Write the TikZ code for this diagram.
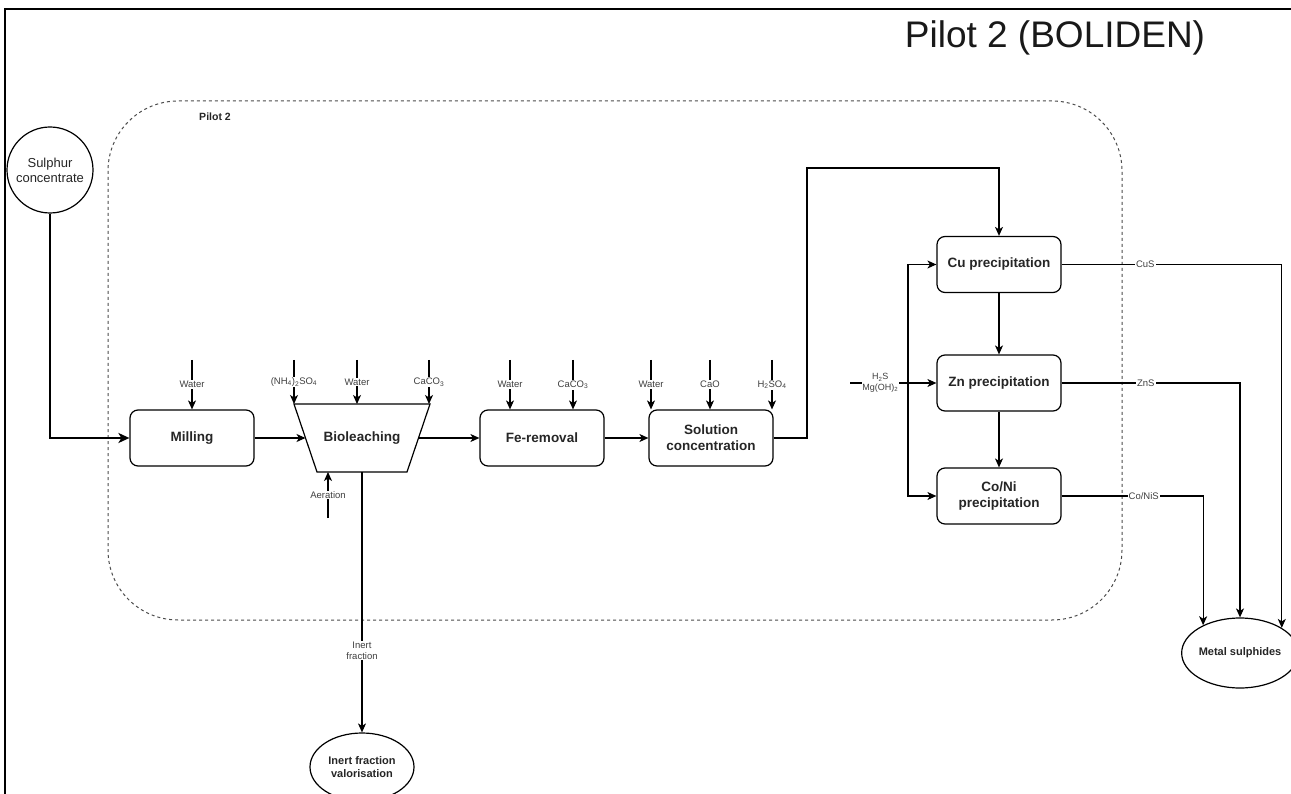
\documentclass[tikz,border=0pt]{standalone}
\usepackage{fontspec}
\setmainfont{Liberation Sans}
\usetikzlibrary{arrows.meta,calc,shapes.geometric}
\begin{document}
\begin{tikzpicture}[x=1pt,y=-1pt,
  line width=1.2pt,
  arr/.style={-{Stealth[length=9pt,width=8pt,inset=2.5pt]}},
  thickarr/.style={line width=2pt,-{Stealth[length=11pt,width=10pt,inset=3pt]}},
  box/.style={draw, rounded corners=8pt, minimum width=124pt, minimum height=56pt, align=center, font=\fontsize{13.5}{16}\selectfont\bfseries, text=black!85},
  lbl/.style={fill=white, font=\fontsize{9.5}{11}\selectfont, text=black!75, inner sep=1pt, align=center},
  ell/.style={draw, ellipse, align=center, font=\fontsize{11}{13}\selectfont\bfseries, text=black!85, inner sep=0pt}
]
\useasboundingbox (0,0) rectangle (1291,794);
\clip (0,0) rectangle (1291,794);
\fill[white] (0,0) rectangle (1291,794);

% frame
\draw[line width=2pt] (5,800) -- (5,9) -- (1300,9);
\node[font=\fontsize{37}{41}\selectfont, text=black!90] (title) at (1055,38) {Pilot 2 (BOLIDEN)};

% container
\draw[dashed, dash pattern=on 3pt off 3pt, black!70, line width=1pt, rounded corners=70pt] (108,101) rectangle (1122,620);
\node[font=\fontsize{10.5}{12}\selectfont\bfseries, text=black!85] (plabel) at (215,117) {Pilot 2};

% nodes
\node[draw, circle, minimum size=86pt, inner sep=0pt, align=center, font=\fontsize{13}{15}\selectfont, text=black!85] (sc) at (50,170) {Sulphur\\concentrate};
\node[box] (mill) at (192,438) {Milling};
% bioleaching trapezoid
\draw (294,404) -- (430,404) -- (407,472) -- (317,472) -- cycle;
\node[font=\fontsize{13.5}{16}\selectfont\bfseries, text=black!85] (bio) at (362,438) {Bioleaching};
\coordinate (bioW) at (305.5,438);
\coordinate (bioE) at (418.5,438);
\coordinate (bioN) at (362,404);
\coordinate (bioS) at (362,472);
\node[box] (fe) at (542,438) {Fe-removal};
\node[box] (sol) at (711,438) {Solution\\concentration};
\node[box] (cu) at (999,264.5) {Cu precipitation};
\node[box] (zn) at (999,383) {Zn precipitation};
\node[box] (coni) at (999,496) {Co/Ni\\precipitation};
\node[ell, minimum width=101pt, minimum height=70pt] (ms) at (1240,653) {Metal sulphides};
\node[ell, minimum width=104pt, minimum height=68pt] (ifv) at (362,767) {Inert fraction\\valorisation};

% main flow
\draw[thickarr] (sc.south) |- (mill.west);
\draw[arr] (mill.east) -- (bioW);
\draw[arr] (bioE) -- (fe.west);
\draw[arr] (fe.east) -- (sol.west);
\coordinate (up) at (807,168);
\draw[arr] (sol.east) -| (up) -| (cu.north);
\draw[arr] (cu.south) -- (zn.north);
\draw[arr] (zn.south) -- (coni.north);

% inputs
\coordinate (i1) at (192,360);
\coordinate (i2) at (294,360);
\coordinate (i3) at (357,360);
\coordinate (i4) at (429,360);
\coordinate (i5) at (510,360);
\coordinate (i6) at (573,360);
\coordinate (i7) at (651,360);
\coordinate (i8) at (710,360);
\coordinate (i9) at (772,360);
\draw[arr] (i1) -- node[lbl]{Water} (i1 |- mill.north);
\draw[arr] (i2) -- node[lbl]{(NH\textsubscript{4})\textsubscript{2}SO\textsubscript{4}} (i2 |- bioN);
\draw[arr] (i3) -- node[lbl]{Water} (i3 |- bioN);
\draw[arr] (i4) -- node[lbl]{CaCO\textsubscript{3}} (i4 |- bioN);
\draw[arr] (i5) -- node[lbl]{Water} (i5 |- fe.north);
\draw[arr] (i6) -- node[lbl]{CaCO\textsubscript{3}} (i6 |- fe.north);
\draw[arr] (i7) -- node[lbl]{Water} (i7 |- sol.north);
\draw[arr] (i8) -- node[lbl]{CaO} (i8 |- sol.north);
\draw[arr] (i9) -- node[lbl]{H\textsubscript{2}SO\textsubscript{4}} (i9 |- sol.north);

% aeration
\coordinate (aer) at (328,518);
\draw[arr] (aer) -- node[lbl]{Aeration} (aer |- bioS);

% inert fraction
\draw[arr] (bioS) -- node[lbl, pos=0.685]{Inert\\fraction} (ifv.north);

% reagents to precipitation
\coordinate (h2s) at (850,383);
\coordinate (j) at (908,383);
\draw[arr] (h2s) -- node[lbl, pos=0.35, inner sep=0.5pt, font=\fontsize{9}{10.5}\selectfont]{H\textsubscript{2}S\\Mg(OH)\textsubscript{2}} (zn.west);
\draw[arr] (j) |- (cu.west);
\draw[arr] (j) |- (coni.west);

% outputs
\draw[arr] (cu.east) -| node[lbl, pos=0.19]{CuS} (ms.31);
\draw[arr] (zn.east) -| node[lbl, pos=0.236]{ZnS} (ms.north);
\draw[arr] (coni.east) -| node[lbl, pos=0.29]{Co/NiS} (ms.143);
\end{tikzpicture}
\end{document}
